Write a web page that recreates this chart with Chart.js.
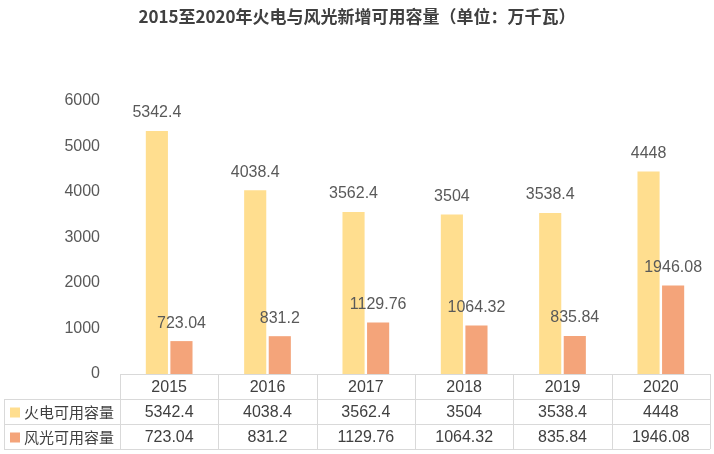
<!DOCTYPE html>
<html><head><meta charset="utf-8">
<script src="https://cdn.jsdelivr.net/npm/chart.js@4"></script>
<style>html,body{margin:0;padding:0;background:#fff}#w{width:714px;height:454px}</style>
</head><body><div id="w"><canvas id="c"></canvas></div>
<script>
const title = '2015至2020年火电与风光新增可用容量（单位：万千瓦）';
const categories = ['2015','2016','2017','2018','2019','2020'];
const seriesNames = ['火电可用容量','风光可用容量'];
const fireValues = [5342.4,4038.4,3562.4,3504,3538.4,4448];
const windValues = [723.04,831.2,1129.76,1064.32,835.84,1946.08];
const colors = ['#FFDE8F','#F4A47A'];
const FONT = '"Liberation Sans","Noto Sans CJK SC",sans-serif';
const CJK = '"Noto Sans CJK SC","Noto Sans",sans-serif';

const plugin = {
  id:'extras',
  afterDraw(chart){
    const ctx = chart.ctx, x = chart.scales.x, a = chart.chartArea;
    ctx.save();
    ctx.fillStyle='#404040'; ctx.font='bold 17px '+CJK; ctx.textAlign='center'; ctx.textBaseline='middle';
    ctx.fillText(title, 357, 17);
    ctx.font='16px '+FONT; ctx.fillStyle='#595959'; ctx.textBaseline='bottom';
    chart.data.datasets.forEach((ds,i)=>{
      chart.getDatasetMeta(i).data.forEach((b,j)=>{
        ctx.fillText(String(ds.data[j]), b.x, b.y-10);
      });
    });
    const rowH=25, top=a.bottom, left=4;
    const colW = (a.right-a.left)/categories.length;
    ctx.strokeStyle='#d9d9d9'; ctx.lineWidth=1;
    ctx.beginPath();
    ctx.moveTo(a.left,top+0.5); ctx.lineTo(a.right,top+0.5);
    for(let r=1;r<=3;r++){ ctx.moveTo(left,top+r*rowH+0.5); ctx.lineTo(a.right,top+r*rowH+0.5); }
    ctx.moveTo(left+0.5,top+rowH); ctx.lineTo(left+0.5,top+3*rowH);
    for(let k=0;k<=categories.length;k++){ const xx=Math.round(a.left+k*colW)+0.5; ctx.moveTo(xx,top); ctx.lineTo(xx,top+3*rowH); }
    ctx.stroke();
    ctx.textBaseline='middle'; ctx.textAlign='center'; ctx.fillStyle='#404040'; ctx.font='16px '+FONT;
    categories.forEach((c,j)=>ctx.fillText(c, x.getPixelForValue(j), top+rowH/2+1));
    [fireValues,windValues].forEach((vals,r)=>{
      const cy=top+(r+1)*rowH+rowH/2+1;
      ctx.fillStyle=colors[r]; ctx.fillRect(10,cy-5,10,10);
      ctx.fillStyle='#404040'; ctx.textAlign='left'; ctx.font='15px '+CJK; ctx.fillText(seriesNames[r],24,cy);
      ctx.textAlign='center'; ctx.font='16px '+FONT;
      vals.forEach((v,j)=>ctx.fillText(String(v), x.getPixelForValue(j), cy));
    });
    ctx.restore();
  }
};

new Chart(document.getElementById('c'),{
  type:'bar',
  data:{labels:categories,datasets:[
    {label:seriesNames[0],data:fireValues,backgroundColor:colors[0],categoryPercentage:0.5,barPercentage:0.9},
    {label:seriesNames[1],data:windValues,backgroundColor:colors[1],categoryPercentage:0.5,barPercentage:0.9}
  ]},
  options:{responsive:true,maintainAspectRatio:false,animation:false,
    layout:{padding:{top:101,right:4,bottom:80,left:0}},
    plugins:{legend:{display:false},tooltip:{enabled:false}},
    scales:{
      x:{ticks:{display:false},grid:{display:false},border:{display:false},afterFit(s){s.height=0;}},
      y:{min:0,max:6000,ticks:{stepSize:1000,color:'#595959',font:{size:16,family:FONT},padding:12,callback:v=>String(v)},
         grid:{display:false},border:{display:false},
         afterFit(s){s.width=120;}}
    }
  },
  plugins:[plugin]
});
</script></body></html>
